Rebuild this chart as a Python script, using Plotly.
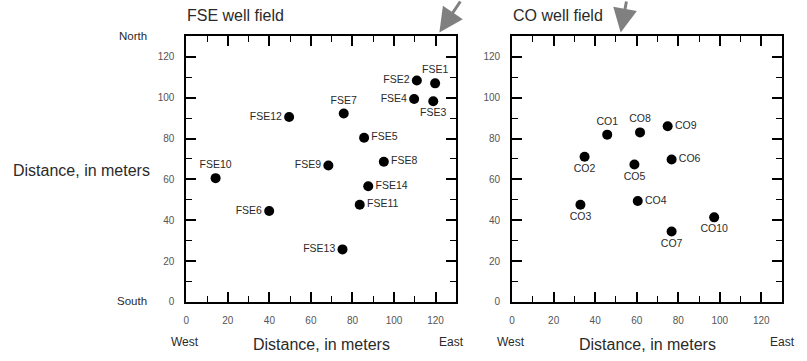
import plotly.graph_objects as go

# FSE well field
fse_names = ["FSE1", "FSE2", "FSE3", "FSE4", "FSE5", "FSE6", "FSE7", "FSE8",
             "FSE9", "FSE10", "FSE11", "FSE12", "FSE13", "FSE14"]
fse_x = [119.8, 111.0, 118.9, 109.7, 85.6, 39.9, 75.8, 95.1, 68.4, 14.1, 83.5, 49.5, 75.2, 87.6]
fse_y = [107.0, 108.4, 98.2, 99.3, 80.4, 44.5, 92.2, 68.6, 66.8, 60.6, 47.6, 90.5, 25.7, 56.6]
fse_pos = ["top center", "middle left", "bottom center", "middle left", "middle right",
           "middle left", "top center", "middle right", "middle left", "top center",
           "middle right", "middle left", "middle left", "middle right"]

# CO well field
co_names = ["CO1", "CO2", "CO3", "CO4", "CO5", "CO6", "CO7", "CO8", "CO9", "CO10"]
co_x = [45.8, 34.9, 32.9, 60.5, 58.9, 76.8, 76.8, 61.6, 74.9, 97.3]
co_y = [81.9, 71.1, 47.6, 49.4, 67.3, 69.7, 34.5, 83.0, 86.0, 41.4]
co_pos = ["top center", "bottom center", "bottom center", "middle right", "bottom center",
          "middle right", "bottom center", "top center", "middle right", "bottom center"]

tick_vals = [0, 20, 40, 60, 80, 100, 120]
axis_range = [0, 130]

FONT = "Liberation Sans, Arial, sans-serif"
TXT = "#2a2a2a"

fig = go.Figure()
fig.add_trace(go.Scatter(
    x=fse_x, y=fse_y, text=fse_names, mode="markers+text", textposition=fse_pos,
    marker=dict(color="black", size=10), textfont=dict(size=10.5, color=TXT, family=FONT),
    xaxis="x", yaxis="y", showlegend=False, cliponaxis=False))
fig.add_trace(go.Scatter(
    x=co_x, y=co_y, text=co_names, mode="markers+text", textposition=co_pos,
    marker=dict(color="black", size=10), textfont=dict(size=10.5, color=TXT, family=FONT),
    xaxis="x2", yaxis="y2", showlegend=False, cliponaxis=False))

def ax(domain, anchor, standoff):
    return dict(domain=domain, anchor=anchor, range=axis_range, tickvals=tick_vals,
                ticks="inside", ticklen=10, tickwidth=1.6, tickcolor="black",
                showline=True, linecolor="black", linewidth=2, mirror="ticks",
                showgrid=False, zeroline=False, ticklabelstandoff=standoff,
                tickfont=dict(size=10, color="#555555", family=FONT),
                minor=dict(ticks="inside", ticklen=6, tickwidth=1.4, tickcolor="black", dtick=10))

fig.update_layout(
    width=807, height=361, margin=dict(l=0, r=0, t=0, b=0),
    paper_bgcolor="white", plot_bgcolor="white",
    font=dict(family=FONT, color=TXT),
    xaxis=ax([184/807, 455/807], "y", 8), yaxis=ax([54/361, 324/361], "x", 8),
    xaxis2=ax([511/807, 782/807], "y2", 8), yaxis2=ax([54/361, 324/361], "x2", 8),
)

ann = []
def label(text, x, y, size, xanchor="left"):
    ann.append(dict(text=text, x=x/807, y=1 - y/361, xref="paper", yref="paper",
                    showarrow=False, xanchor=xanchor, yanchor="middle", borderpad=0,
                    font=dict(size=size, color=TXT, family=FONT)))

label("FSE well field", 184, 16, 16)
label("CO well field", 511, 16, 16)
label("North", 146, 37, 11.5, "right")
label("South", 146, 306, 11.5, "right")
label("Distance, in meters", 9, 173, 16)
label("Distance, in meters", 319.5, 350, 16, "center")
label("Distance, in meters", 646.5, 350, 16, "center")
label("West", 183, 348, 12, "center")
label("East", 450, 348, 12, "center")
label("West", 510, 348, 12, "center")
label("East", 782, 348, 12, "center")

# decorative gray arrows at top
for tipx, dx in [(438, 22), (620, 6)]:
    ann.append(dict(x=tipx/807, y=1 - 33/361, xref="paper", yref="paper", ax=dx, ay=-34,
                    showarrow=True, arrowhead=2, arrowsize=1.6, arrowwidth=3,
                    arrowcolor="#808080", text=""))

fig.update_layout(annotations=ann)
fig.write_html("out.html", config={"displayModeBar": False},
               post_script="document.body.style.margin='0';document.body.style.overflow='hidden';")
